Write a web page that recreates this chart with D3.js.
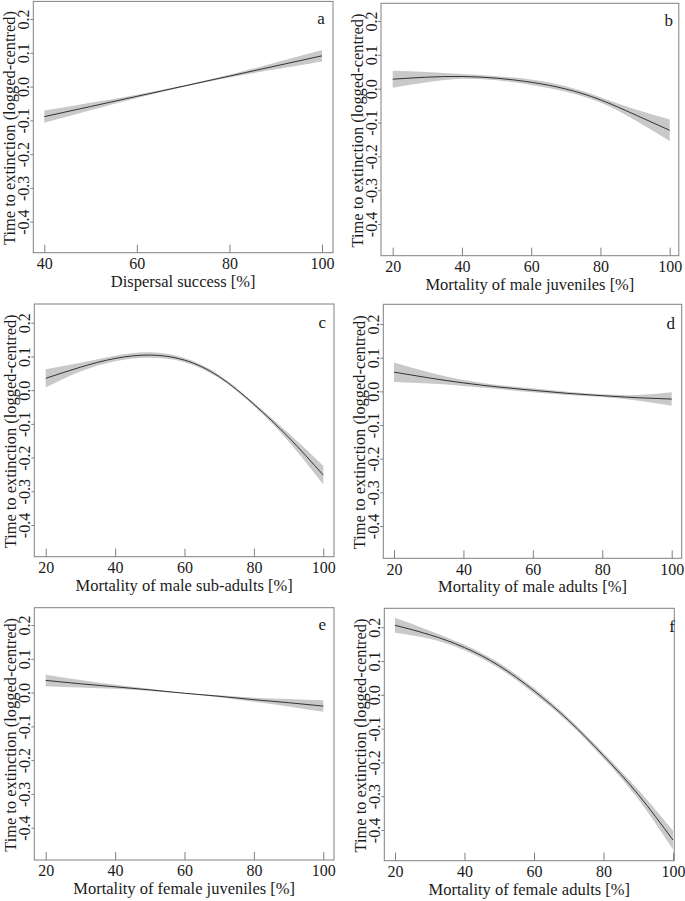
<!DOCTYPE html>
<html>
<head>
<meta charset="utf-8">
<script src="https://cdn.jsdelivr.net/npm/d3@7"></script>
<style>
  html, body { margin: 0; padding: 0; background: #fff; }
  svg { display: block; }
  text { font-family: "Liberation Serif", "Times New Roman", serif; fill: #1a1a1a; }
</style>
</head>
<body>
<svg id="chart" width="685" height="901"></svg>
<script>
// ---------------- data ----------------
const panelLetters = ["a", "b", "c", "d", "e", "f"];
const xTitles = [
  "Dispersal success [%]",
  "Mortality of male juveniles [%]",
  "Mortality of male sub-adults [%]",
  "Mortality of male adults [%]",
  "Mortality of female juveniles [%]",
  "Mortality of female adults [%]"
];
const yTitle = "Time to extinction (logged-centred)";
const yTickValues = [-0.4, -0.3, -0.2, -0.1, 0.0, 0.1, 0.2];
const xTicksA = [40, 60, 80, 100];
const xTicksOther = [20, 40, 60, 80, 100];

const xGridA = [40, 50, 60, 70, 80, 90, 100];
const xGrid = [20, 30, 40, 50, 60, 70, 80, 90, 100];

// a: dispersal success
const fitA = [-0.089, -0.059, -0.029, 0.001, 0.031, 0.061, 0.091];
const lowA = [-0.107, -0.070, -0.034, -0.001, 0.027, 0.051, 0.074];
const upA  = [-0.071, -0.048, -0.024, 0.003, 0.035, 0.071, 0.108];
// b: male juveniles
const fitB = [0.028, 0.034, 0.036, 0.031, 0.019, -0.001, -0.033, -0.077, -0.123];
const lowB = [0.003, 0.019, 0.029, 0.025, 0.011, -0.009, -0.041, -0.093, -0.155];
const upB  = [0.053, 0.049, 0.043, 0.037, 0.027, 0.007, -0.025, -0.061, -0.091];
// c: male sub-adults
const fitC = [0.035, 0.068, 0.094, 0.104, 0.089, 0.040, -0.042, -0.140, -0.252];
const lowC = [0.008, 0.055, 0.086, 0.096, 0.083, 0.035, -0.047, -0.152, -0.280];
const upC  = [0.062, 0.081, 0.102, 0.112, 0.095, 0.045, -0.037, -0.128, -0.224];
// d: male adults
const fitD = [0.057, 0.040, 0.025, 0.013, 0.003, -0.006, -0.013, -0.019, -0.023];
const lowD = [0.028, 0.023, 0.016, 0.007, -0.003, -0.011, -0.017, -0.027, -0.043];
const upD  = [0.086, 0.057, 0.034, 0.019, 0.009, -0.001, -0.009, -0.011, -0.003];
// e: female juveniles
const fitE = [0.036, 0.026, 0.017, 0.008, -0.002, -0.011, -0.021, -0.030, -0.040];
const lowE = [0.019, 0.015, 0.011, 0.005, -0.003, -0.014, -0.027, -0.041, -0.057];
const upE  = [0.053, 0.037, 0.023, 0.011, -0.001, -0.008, -0.015, -0.019, -0.023];
// f: female adults
const fitF = [0.206, 0.178, 0.140, 0.086, 0.012, -0.076, -0.180, -0.295, -0.430];
const lowF = [0.184, 0.166, 0.132, 0.078, 0.004, -0.083, -0.188, -0.309, -0.458];
const upF  = [0.228, 0.190, 0.148, 0.094, 0.020, -0.069, -0.172, -0.281, -0.402];

// ---------------- layout (pixel geometry, separate from data) ----------------
// box: l,r,t,b ; xr: pixel of first and last x tick ; yr: pixel of 0.2 and -0.4
const layout = [
  { box: [33.3, 333.0, 1.4, 252.7],   xr: [44.3, 322.0],  yr: [19.0, 221.7] },
  { box: [381.0, 678.8, 3.3, 255.7],  xr: [392.7, 669.7], yr: [21.0, 224.0] },
  { box: [34.3, 334.0, 304.0, 556.7], xr: [45.7, 323.3],  yr: [322.7, 525.0] },
  { box: [383.3, 681.7, 304.3, 558.3],xr: [394.0, 671.7], yr: [324.0, 526.0] },
  { box: [34.3, 334.0, 607.7, 860.0], xr: [45.7, 323.3],  yr: [625.0, 827.7] },
  { box: [384.3, 674.3, 608.3, 860.7],xr: [395.0, 673.0], yr: [627.3, 830.0] }
];

const panels = [
  { xs: xGridA, fit: fitA, low: lowA, up: upA, ticks: xTicksA },
  { xs: xGrid, fit: fitB, low: lowB, up: upB, ticks: xTicksOther },
  { xs: xGrid, fit: fitC, low: lowC, up: upC, ticks: xTicksOther },
  { xs: xGrid, fit: fitD, low: lowD, up: upD, ticks: xTicksOther },
  { xs: xGrid, fit: fitE, low: lowE, up: upE, ticks: xTicksOther },
  { xs: xGrid, fit: fitF, low: lowF, up: upF, ticks: xTicksOther }
];

const svg = d3.select("#chart");
const fmt = v => (Math.abs(v) < 1e-9 ? "0.0" : v.toFixed(1));
const boxColor = "#808080";

panels.forEach((p, i) => {
  const L = layout[i];
  const [bl, br, bt, bb] = L.box;
  const x = d3.scaleLinear().domain([p.ticks[0], p.ticks[p.ticks.length - 1]]).range(L.xr);
  const y = d3.scaleLinear().domain([0.2, -0.4]).range(L.yr);
  const g = svg.append("g");

  const rows = p.xs.map((xv, k) => ({ x: xv, f: p.fit[k], lo: p.low[k], hi: p.up[k] }));

  // confidence band
  g.append("path")
    .datum(rows)
    .attr("fill", "#c9c9c9")
    .attr("stroke", "none")
    .attr("d", d3.area().curve(d3.curveNatural)
      .x(d => x(d.x)).y0(d => y(d.lo)).y1(d => y(d.hi)));

  // fitted line
  g.append("path")
    .datum(rows)
    .attr("fill", "none")
    .attr("stroke", "#333")
    .attr("stroke-width", 1)
    .attr("d", d3.line().curve(d3.curveNatural).x(d => x(d.x)).y(d => y(d.f)));

  // box
  g.append("rect")
    .attr("x", bl).attr("y", bt)
    .attr("width", br - bl).attr("height", bb - bt)
    .attr("fill", "none").attr("stroke", boxColor).attr("stroke-width", 1);

  // x axis (ticks inward)
  const xa = g.append("g")
    .attr("transform", `translate(0,${bb})`)
    .call(d3.axisBottom(x).tickValues(p.ticks).tickSizeInner(-8).tickSizeOuter(0).tickPadding(5).tickFormat(d3.format("d")));
  xa.select(".domain").remove();
  xa.selectAll("line").attr("stroke", boxColor);
  xa.selectAll("text").attr("font-size", 16).attr("font-family", "Liberation Serif").attr("fill", "#1a1a1a");

  // y axis (rotated labels)
  const ya = g.append("g")
    .attr("transform", `translate(${bl},0)`)
    .call(d3.axisLeft(y).tickValues(yTickValues).tickSizeInner(3).tickSizeOuter(0).tickFormat(fmt));
  ya.select(".domain").remove();
  ya.selectAll("line").attr("stroke", boxColor);
  ya.selectAll("text")
    .attr("font-size", 16).attr("font-family", "Liberation Serif").attr("fill", "#1a1a1a")
    .attr("transform", "rotate(-90)")
    .attr("x", 0).attr("y", -4).attr("dy", 0)
    .attr("text-anchor", "middle");

  // x title
  g.append("text")
    .attr("x", (bl + br) / 2).attr("y", bb + 34)
    .attr("text-anchor", "middle").attr("font-size", 16.5)
    .text(xTitles[i]);

  // y title
  g.append("text")
    .attr("transform", `translate(${bl - 18.5},${(bt + bb) / 2 + 1}) rotate(-90)`)
    .attr("text-anchor", "middle").attr("font-size", 16.4)
    .text(yTitle);

  // panel letter
  g.append("text")
    .attr("x", x(100) - 1).attr("y", y(0.2))
    .attr("dy", "0.3em")
    .attr("text-anchor", "middle").attr("font-size", 17)
    .text(panelLetters[i]);
});
</script>
</body>
</html>
